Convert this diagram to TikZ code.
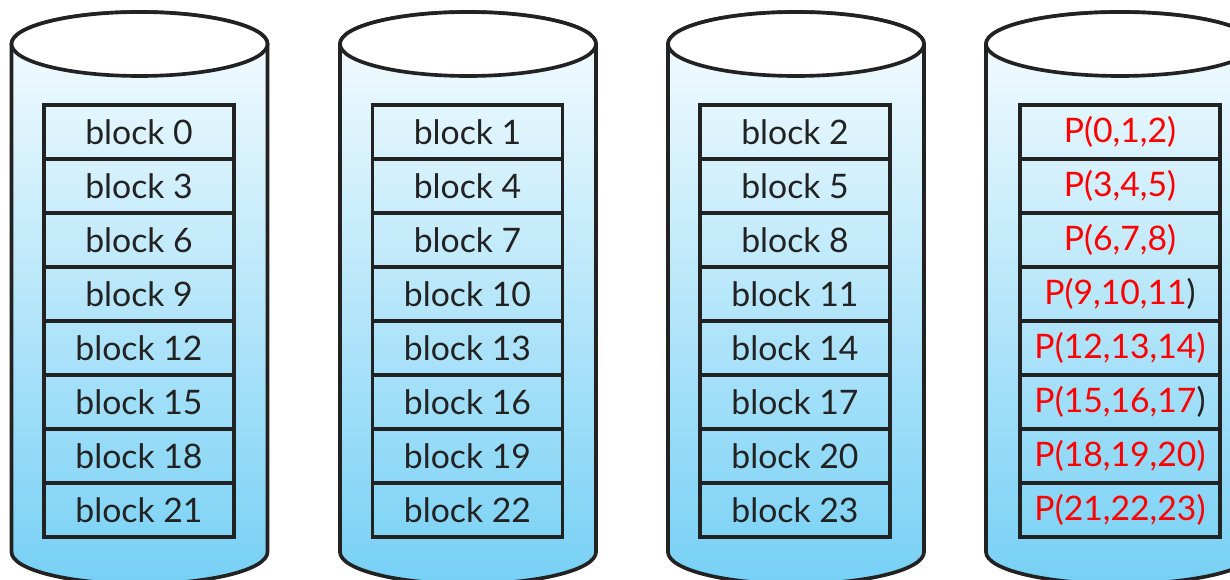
\documentclass[tikz,border=0pt]{standalone}
\usepackage{fontspec}
\setmainfont{Lato}
\definecolor{diskblue}{RGB}{118,208,245}
\definecolor{disktop}{RGB}{248,253,255}
\definecolor{inkgray}{RGB}{34,34,34}
\begin{document}
\begin{tikzpicture}[x=0.025cm, y=0.025cm,
    blk/.style={draw=inkgray, line width=2.6pt, minimum width=4.75cm, minimum height=1.35cm,
        inner sep=0pt, text=inkgray, font=\fontsize{24}{28}\selectfont},
    parblk/.style={blk, minimum width=5.0cm, text=red}]
    % 1. Vùng hiển thị
    \useasboundingbox (0,0) rectangle (1230,579);
    \clip (0,0) rectangle (1230,579);

    % 2. Bốn ổ đĩa (thân tô màu chuyển, nắp trắng)
    \foreach \cx/\rx in {139.5/128, 468/128, 796/128, 1120/134} {
        \draw[line width=2.6pt, draw=inkgray, top color=disktop, bottom color=diskblue]
            ({\cx-\rx},535) -- ({\cx-\rx},27)
            arc[start angle=180, end angle=360, x radius=\rx, y radius=32]
            -- ({\cx+\rx},535)
            arc[start angle=0, end angle=180, x radius=\rx, y radius=32] -- cycle;
        \draw[line width=2.6pt, draw=inkgray, fill=white] (\cx,535) ellipse[x radius=\rx, y radius=32];
    }

    % 3. Các khối dữ liệu
    \foreach \c/\x in {0/139, 1/467.5, 2/795} {
        \foreach \r in {0,...,7} {
            \pgfmathtruncatemacro{\n}{3*\r+\c}
            \node[blk] (b\n) at (\x, {447-54*\r}) {block \n};
        }
    }

    % 4. Các khối chẵn lẻ
    \node[parblk] (p0) at (1120,447) {P(0,1,2)};
    \node[parblk] (p1) at (1120,393) {P(3,4,5)};
    \node[parblk] (p2) at (1120,339) {P(6,7,8)};
    \node[parblk] (p3) at (1120,285) {P(9,10,11\textcolor{inkgray}{)}};
    \node[parblk] (p4) at (1120,231) {P(12,13,14)};
    \node[parblk] (p5) at (1120,177) {P(15,16,17\textcolor{inkgray}{)}};
    \node[parblk] (p6) at (1120,123) {P(18,19,20)};
    \node[parblk] (p7) at (1120,69) {P(21,22,23)};

\end{tikzpicture}
\end{document}
